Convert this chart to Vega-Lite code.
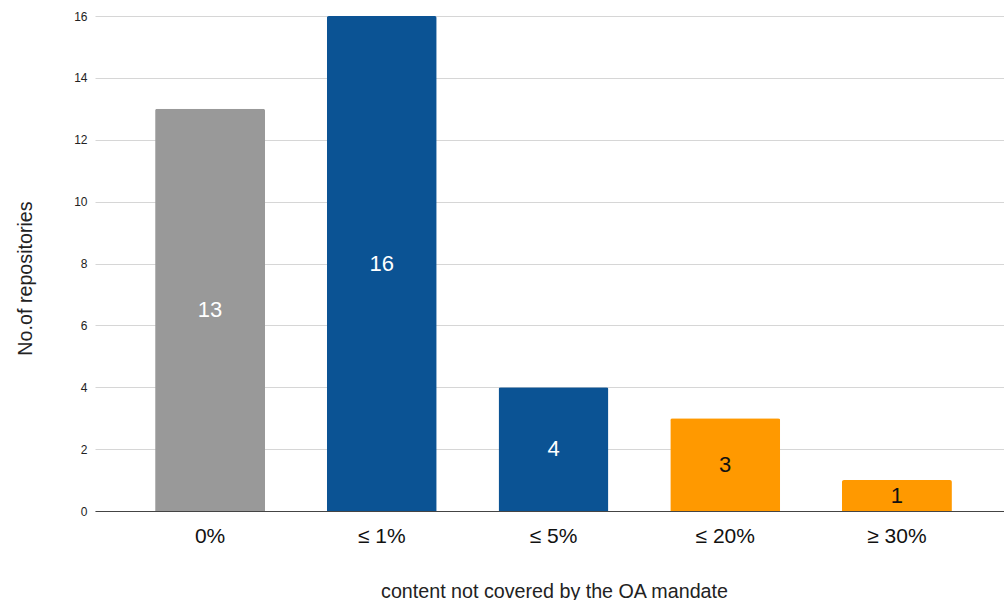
{
  "$schema": "https://vega.github.io/schema/vega-lite/v6.json",
  "width": 917,
  "height": 495,
  "autosize": {"type": "none"},
  "padding": {"left": 95, "top": 16, "right": 0, "bottom": 89},
  "config": {
    "font": "Liberation Sans",
    "view": {"stroke": null},
    "axis": {"labelFont": "Liberation Sans", "titleFont": "Liberation Sans", "titleFontWeight": "normal"}
  },
  "data": {
    "values": [
      {"share": "0%", "repositories": 13, "group": "none"},
      {"share": "≤ 1%", "repositories": 16, "group": "small"},
      {"share": "≤ 5%", "repositories": 4, "group": "small"},
      {"share": "≤ 20%", "repositories": 3, "group": "large"},
      {"share": "≥ 30%", "repositories": 1, "group": "large"}
    ]
  },
  "encoding": {
    "x": {
      "field": "share",
      "type": "nominal",
      "sort": null,
      "scale": {"paddingInner": 0.36, "paddingOuter": 0.35},
      "axis": {
        "title": "content not covered by the OA mandate",
        "titleFontSize": 19.7,
        "titleColor": "#222222",
        "titlePadding": 35,
        "titleX": 459,
        "labelAngle": 0,
        "labelFontSize": 21,
        "labelColor": "#111111",
        "labelPadding": 14,
        "ticks": false,
        "domainColor": "#444444",
        "domainWidth": 1.2,
        "grid": false
      }
    }
  },
  "layer": [
    {
      "mark": {"type": "bar", "cornerRadiusTopLeft": 2, "cornerRadiusTopRight": 2},
      "encoding": {
        "y": {
          "field": "repositories",
          "type": "quantitative",
          "scale": {"domain": [0, 16]},
          "axis": {
            "title": "No.of repositories",
            "titleFontSize": 19.7,
            "titleColor": "#222222",
            "titlePadding": 38,
            "titleY": 262,
            "values": [0, 2, 4, 6, 8, 10, 12, 14, 16],
            "labelFontSize": 12,
            "labelColor": "#222222",
            "labelPadding": 8,
            "ticks": false,
            "domain": false,
            "gridColor": "#d6d6d6",
            "gridWidth": 1
          }
        },
        "color": {
          "field": "group",
          "type": "nominal",
          "scale": {"domain": ["none", "small", "large"], "range": ["#999999", "#0b5394", "#ff9900"]},
          "legend": null
        }
      }
    },
    {
      "transform": [{"calculate": "datum.repositories / 2", "as": "label_y"}],
      "mark": {"type": "text", "fontSize": 22, "baseline": "middle", "align": "center"},
      "encoding": {
        "y": {"field": "label_y", "type": "quantitative"},
        "text": {"field": "repositories", "type": "quantitative"},
        "color": {
          "field": "group",
          "type": "nominal",
          "scale": {"domain": ["none", "small", "large"], "range": ["#ffffff", "#ffffff", "#111111"]},
          "legend": null
        }
      }
    }
  ],
  "resolve": {"scale": {"color": "independent"}}
}
